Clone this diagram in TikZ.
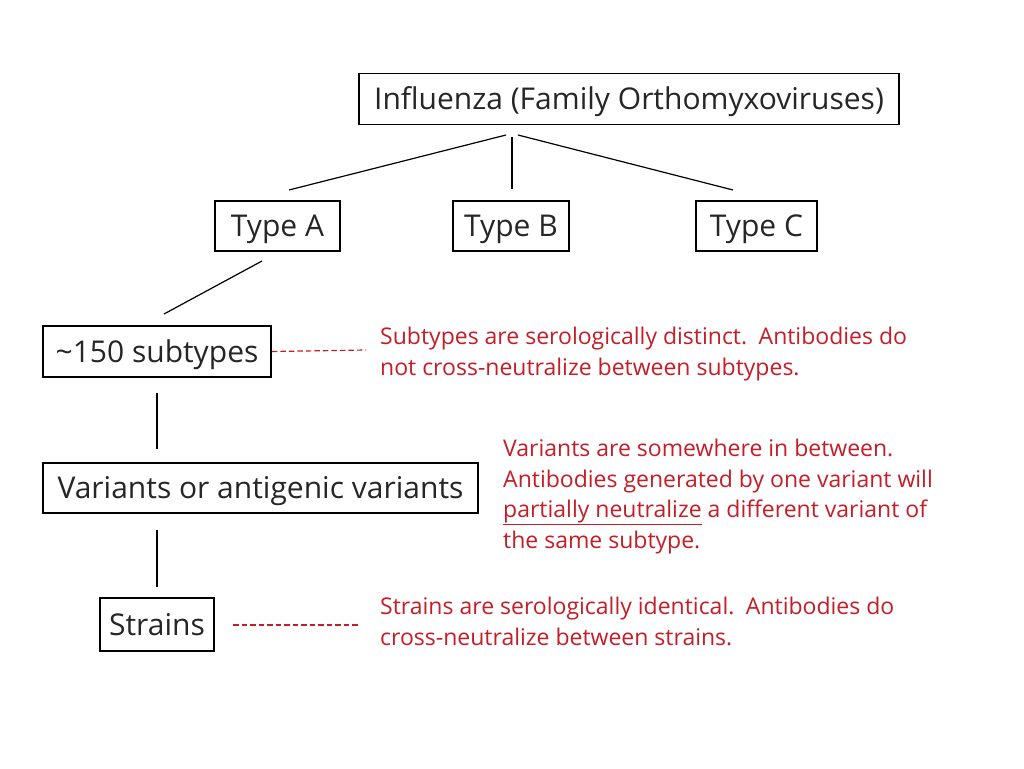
\documentclass[tikz,border=0pt]{standalone}
\usepackage{fontspec}
\setmainfont{Open Sans}
\definecolor{note}{RGB}{196,30,40}
\tikzset{
  box/.style={draw=black, line width=1.8pt, inner sep=0pt, font=\fontsize{30}{34}\selectfont, text=black!85, text height=21.6pt, text depth=0pt},
  link/.style={draw=black, line width=1.2pt},
  dash link/.style={draw=note, line width=1.2pt, dash pattern=on 5.5pt off 3pt},
  notetext/.style={anchor=base west, align=left, inner sep=0pt, text=note, font=\fontsize{23}{30.5}\selectfont}
}
\begin{document}
\begin{tikzpicture}[x=1pt,y=-1pt]
\useasboundingbox (0,0) rectangle (1024,768);
\fill[white] (0,0) rectangle (1024,768);
% boxes
\node[box, minimum width=540pt, minimum height=51pt] (flu) at (629,99) {Influenza (Family Orthomyxoviruses)};
\node[box, minimum width=125pt, minimum height=50pt] (ta) at (277.5,226) {Type A};
\node[box, minimum width=116pt, minimum height=50pt] (tb) at (511,226) {Type B};
\node[box, minimum width=121pt, minimum height=50pt] (tc) at (756.5,226) {Type C};
\node[box, minimum width=228pt, minimum height=51pt] (sub) at (157,351.5) {\textasciitilde150 subtypes};
\node[box, minimum width=435pt, minimum height=50pt] (var) at (260.5,488) {Variants or antigenic variants};
\node[box, minimum width=114pt, minimum height=53pt] (str) at (157,624.5) {Strains};
% connector end points
\coordinate (fluL) at (506,135); \coordinate (fluM) at (512,137); \coordinate (fluR) at (518,135);
\coordinate (taT) at (289,190); \coordinate (tbT) at (512,189); \coordinate (tcT) at (733,190);
\coordinate (taB) at (262,261); \coordinate (subT) at (164,314);
\coordinate (subB) at (157,393); \coordinate (varT) at (157,449);
\coordinate (varB) at (157,530); \coordinate (strT) at (157,587);
\draw[link] (fluL) -- (taT);
\draw[link] (fluM) -- (tbT);
\draw[link] (fluR) -- (tcT);
\draw[link] (taB) -- (subT);
\draw[link] (subB) -- (varT);
\draw[link] (varB) -- (strT);
% notes (anchored at the baseline of their last line)
\node[notetext] (n1) at (380,375) {Subtypes are serologically distinct.\enspace Antibodies do\\not cross-neutralize between subtypes.};
\node[notetext] (n2) at (503,548) {Variants are somewhere in between.\\Antibodies generated by one variant will\\\underline{partially neutralize} a different variant of\\the same subtype.};
\node[notetext] (n3) at (380,645) {Strains are serologically identical.\enspace Antibodies do\\cross-neutralize between strains.};
\coordinate (d1e) at (366,350);
\coordinate (d2s) at (233,625); \coordinate (d2e) at (358,625);
\draw[dash link] (sub.east) -- (d1e);
\draw[dash link] (d2s) -- (d2e);
\end{tikzpicture}
\end{document}
